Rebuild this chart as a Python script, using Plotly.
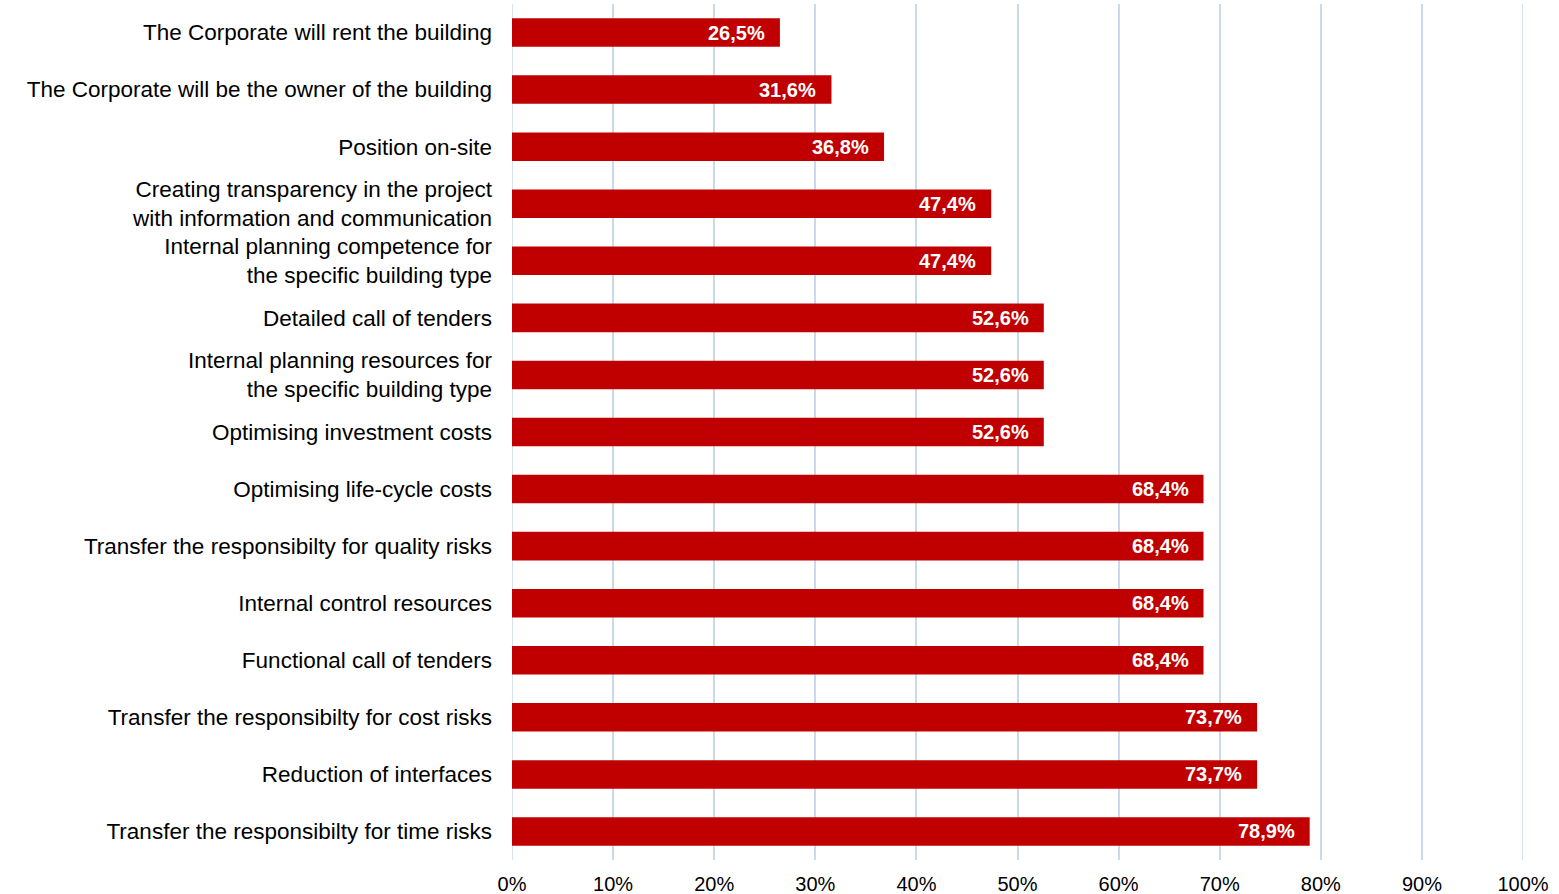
import plotly.graph_objects as go

categories = [
    "The Corporate will rent the building",
    "The Corporate will be the owner of the building",
    "Position on-site",
    "Creating transparency in the project<br>with information and communication",
    "Internal planning competence for<br>the specific building type",
    "Detailed call of tenders",
    "Internal planning resources for<br>the specific building type",
    "Optimising investment costs",
    "Optimising life-cycle costs",
    "Transfer the responsibilty for quality risks",
    "Internal control resources",
    "Functional call of tenders",
    "Transfer the responsibilty for cost risks",
    "Reduction of interfaces",
    "Transfer the responsibilty for time risks",
]
values = [26.5, 31.6, 36.8, 47.4, 47.4, 52.6, 52.6, 52.6, 68.4, 68.4, 68.4, 68.4, 73.7, 73.7, 78.9]
x_ticks = list(range(0, 101, 10))

labels = [f"{v:.1f}".replace(".", ",") + "%" for v in values]
grid_color = "#C9D9EE"

fig = go.Figure()
fig.add_trace(go.Bar(
    y=categories, x=values, orientation="h",
    marker=dict(color="#C00000", line=dict(width=0)),
    width=0.5,
    hoverinfo="skip",
))

for c, v, t in zip(categories, values, labels):
    fig.add_annotation(x=v, y=c, text=f"<b>{t}</b>", showarrow=False,
                       xanchor="right", xshift=-13,
                       font=dict(family="Liberation Sans, Arial", size=20, color="white"))

# edge gridlines (0% and 100%), which plotly drops at the plot edges
for gx in (x_ticks[0], x_ticks[-1]):
    fig.add_shape(type="line", xref="x", yref="paper", x0=gx, x1=gx, y0=0, y1=1,
                  line=dict(color=grid_color, width=1.5), layer="below")

fig.update_layout(
    width=1559, height=894,
    margin=dict(l=512, r=36, t=4, b=34, autoexpand=False),
    paper_bgcolor="white", plot_bgcolor="white",
    showlegend=False,
    font=dict(family="Liberation Sans, Arial", size=20, color="#000000"),
    xaxis=dict(
        range=[0, 100], tickvals=x_ticks, ticktext=[f"{t}%" for t in x_ticks],
        showgrid=True, gridcolor=grid_color, gridwidth=1.5,
        zeroline=False, showline=False, ticks="",
        ticklabelstandoff=10, automargin=False,
        tickfont=dict(size=20),
    ),
    yaxis=dict(
        categoryorder="array", categoryarray=categories, autorange="reversed",
        showgrid=False, zeroline=False, showline=False, ticks="",
        ticklabelstandoff=19, automargin=False,
        tickfont=dict(size=22.5),
    ),
)

fig.write_html("out.html")
